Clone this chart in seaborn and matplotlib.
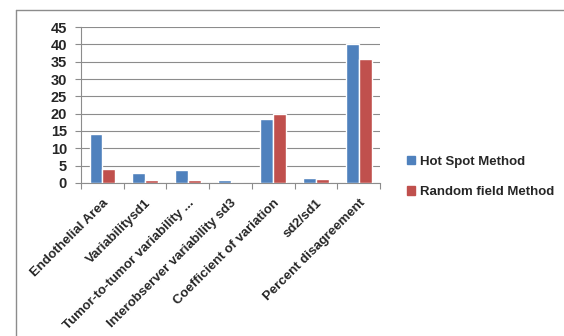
import matplotlib
matplotlib.use("Agg")
import matplotlib.pyplot as plt
from matplotlib.lines import Line2D
import seaborn as sns
import pandas as pd

categories = [
    "Endothelial Area",
    "Variabilitysd1",
    "Tumor-to-tumor variability ...",
    "Interobserver variability sd3",
    "Coefficient of variation",
    "sd2/sd1",
    "Percent disagreement",
]
hot_spot = [14.1, 2.8, 3.7, 0.8, 18.5, 1.4, 40.1]
random_field = [4.0, 0.8, 0.8, 0.0, 19.9, 1.15, 35.8]
series_names = ["Hot Spot Method", "Random field Method"]
y_ticks = [0, 5, 10, 15, 20, 25, 30, 35, 40, 45]

df = pd.DataFrame({
    "category": categories * 2,
    "value": hot_spot + random_field,
    "series": [series_names[0]] * len(categories) + [series_names[1]] * len(categories),
})

sns.set_style("white")
plt.rcParams["font.family"] = ["Liberation Sans", "DejaVu Sans"]

fig = plt.figure(figsize=(5.64, 3.36), dpi=100)
ax = fig.add_axes([0.1436, 0.4554, 0.674 - 0.1436, 0.9196 - 0.4554])

palette = {series_names[0]: "#4F81BD", series_names[1]: "#C0504D"}
sns.barplot(data=df, x="category", y="value", hue="series", palette=palette,
            width=0.6, saturation=1, ax=ax, legend=False, zorder=3)

ax.set_ylim(0, 45)
ax.set_yticks(y_ticks)
ax.set_xlim(-0.5, len(categories) - 0.5)
ax.yaxis.grid(True, color="#8c8c8c", linewidth=0.8, zorder=0)
ax.set_axisbelow(True)
ax.set_xlabel("")
ax.set_ylabel("")

for side in ["top", "right"]:
    ax.spines[side].set_visible(False)
ax.spines["left"].set_color("#8c8c8c")
ax.spines["bottom"].set_color("#8c8c8c")

ax.tick_params(axis="y", which="major", length=4, width=0.8, color="#8c8c8c",
               labelsize=10.5, pad=6, left=True)
for lab in ax.get_yticklabels():
    lab.set_fontweight("bold")

# category boundary ticks below the x axis
ax.set_xticks([i - 0.5 for i in range(len(categories) + 1)], minor=True)
ax.tick_params(axis="x", which="minor", length=4, width=0.8, color="#8c8c8c", bottom=True)
ax.tick_params(axis="x", which="major", length=0, pad=10, labelsize=9.5)
ax.set_xticklabels(categories, rotation=45, ha="right", rotation_mode="anchor",
                   fontweight="bold")

handles = [plt.Rectangle((0, 0), 1, 1, color=palette[s]) for s in series_names]
fig.legend(handles, series_names, loc="center left", bbox_to_anchor=(0.70, 0.473),
           frameon=False, prop={"weight": "bold", "size": 9.5},
           handlelength=0.6, handleheight=0.6, handletextpad=0.4, labelspacing=1.4)

# outer chart frame (left and top edges)
fig.add_artist(Line2D([16 / 564, 16 / 564], [0, 1 - 10 / 336], transform=fig.transFigure,
                      color="#8c8c8c", linewidth=1))
fig.add_artist(Line2D([16 / 564, 1], [1 - 10 / 336, 1 - 10 / 336], transform=fig.transFigure,
                      color="#8c8c8c", linewidth=1))

fig.savefig("out.png", dpi=100, facecolor="white")
